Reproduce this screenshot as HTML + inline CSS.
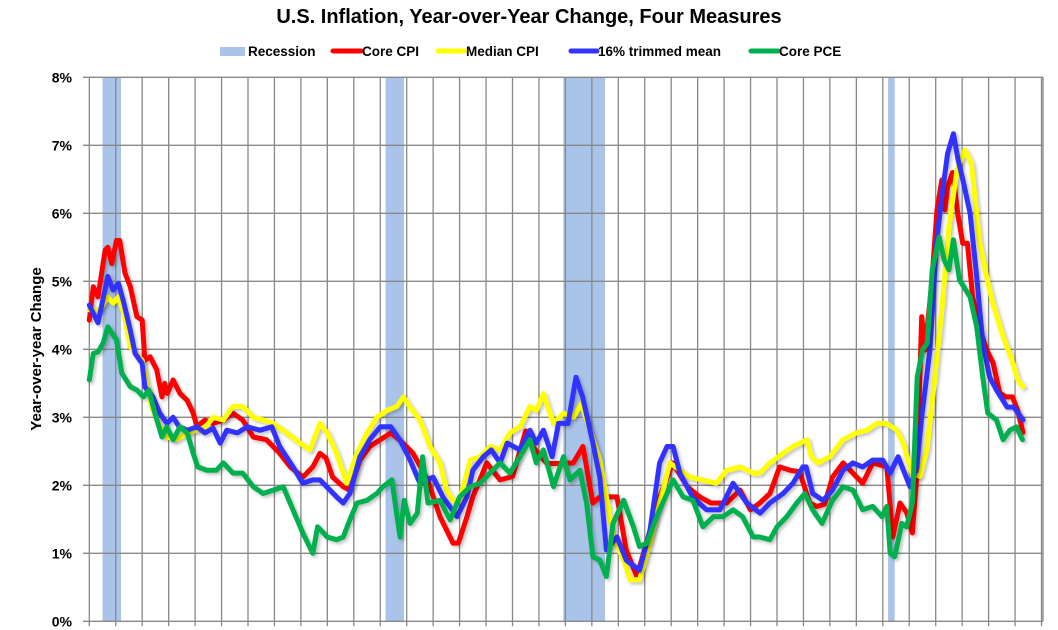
<!DOCTYPE html>
<html><head><meta charset="utf-8"><style>
body{margin:0;background:#fff;}
svg{display:block;font-family:"Liberation Sans",Arial,sans-serif;}
</style></head><body>
<svg id="chart" width="1058" height="630" viewBox="0 0 1058 630">
<defs><filter id="sh" x="-5%" y="-5%" width="110%" height="110%"><feDropShadow dx="2" dy="2" stdDeviation="1.5" flood-color="#000" flood-opacity="0.25"/></filter></defs>
<text x="529" y="23" text-anchor="middle" font-size="20" font-weight="bold" fill="#000">U.S. Inflation, Year-over-Year Change, Four Measures</text>
<g font-size="13.5" font-weight="bold">
<g><rect x="220" y="47" width="25" height="9" fill="#a9c4e8"/><text x="248" y="56">Recession</text></g>
<g><line x1="333" y1="51" x2="361" y2="51" stroke="#ff0000" stroke-width="5" stroke-linecap="round"/><text x="362" y="56">Core CPI</text></g>
<g><line x1="438" y1="51" x2="465" y2="51" stroke="#ffff00" stroke-width="5" stroke-linecap="round"/><text x="466" y="56">Median CPI</text></g>
<g><line x1="571" y1="51" x2="597" y2="51" stroke="#3333ff" stroke-width="5" stroke-linecap="round"/><text x="598" y="56">16% trimmed mean</text></g>
<g><line x1="751" y1="51" x2="778" y2="51" stroke="#00b050" stroke-width="5" stroke-linecap="round"/><text x="779" y="56">Core PCE</text></g>
</g>
<text transform="translate(41,349) rotate(-90)" text-anchor="middle" font-size="15" font-weight="bold">Year-over-year Change</text>
<g id="rec"></g><g id="grid"></g><g id="ylab" font-size="14" font-weight="bold"></g><g id="series"></g>
</svg>
<script>
const recessionStarts=[1990.5,2001.2,2007.92,2020.2];
const recessionEnds=[1991.2,2001.9,2009.5,2020.45];
const yTicks=[0,1,2,3,4,5,6,7,8];
const yTickLabels=["0%","1%","2%","3%","4%","5%","6%","7%","8%"];
const coreCpiYears=[1990,1990.15,1990.33,1990.6,1990.7,1990.85,1991.03,1991.15,1991.35,1991.55,1991.8,1992,1992.1,1992.3,1992.55,1992.75,1992.85,1992.95,1993.17,1993.43,1993.7,1993.93,1994.07,1994.37,1994.68,1995.07,1995.43,1995.8,1996.2,1996.7,1997.2,1997.6,1998.07,1998.45,1998.72,1998.95,1999.2,1999.6,1999.85,2000.23,2000.6,2001,2001.4,2001.75,2002.24,2002.77,2003.26,2003.75,2003.95,2004.28,2004.5,2005.03,2005.53,2006,2006.5,2006.7,2007.3,2007.8,2008.3,2008.66,2009.04,2009.3,2009.95,2010.3,2010.7,2011.1,2011.56,2012.06,2012.6,2013.08,2013.5,2014.1,2014.6,2015,2015.35,2015.73,2016.1,2016.5,2016.85,2017.24,2017.5,2017.8,2018.1,2018.5,2018.87,2019.24,2019.62,2020.15,2020.38,2020.65,2020.9,2021.12,2021.28,2021.47,2021.6,2021.85,2022.05,2022.23,2022.35,2022.45,2022.64,2022.85,2023.02,2023.2,2023.4,2023.65,2023.93,2024.17,2024.42,2024.65,2024.9,2025.1,2025.3];
const coreCpiValues=[4.43,4.92,4.77,5.46,5.5,5.26,5.6,5.6,5.12,4.92,4.48,4.43,3.84,3.89,3.7,3.3,3.5,3.35,3.55,3.35,3.25,3.06,2.86,2.96,2.91,2.96,3.06,2.96,2.71,2.67,2.47,2.27,2.12,2.27,2.47,2.4,2.12,1.98,1.93,2.37,2.57,2.67,2.77,2.66,2.47,2.1,1.54,1.15,1.15,1.54,1.83,2.33,2.08,2.13,2.8,2.6,2.32,2.32,2.33,2.57,1.74,1.83,1.83,1.05,0.66,1.2,1.83,2.33,1.98,1.83,1.74,1.74,1.93,1.64,1.74,1.88,2.27,2.22,2.2,1.74,1.69,1.72,2.12,2.33,2.18,2.03,2.33,2.27,1.24,1.74,1.6,1.3,2.12,4.48,3.99,4.97,6.05,6.49,6.05,6.39,6.6,5.95,5.56,5.56,4.77,4.33,3.99,3.8,3.36,3.3,3.3,3.1,2.78];
const medianCpiYears=[1990,1990.4,1990.7,1990.9,1991.1,1991.3,1991.55,1991.75,1992,1992.2,1992.35,1992.67,1992.93,1993.3,1993.7,1994.07,1994.4,1994.68,1995.07,1995.43,1995.8,1996.2,1996.57,1996.95,1997.47,1997.97,1998.34,1998.72,1999,1999.35,1999.73,2000.12,2000.5,2000.87,2001.25,2001.63,2001.87,2002.13,2002.5,2002.88,2003.26,2003.5,2003.75,2004,2004.4,2004.77,2005.15,2005.53,2005.9,2006.28,2006.66,2006.9,2007.17,2007.55,2007.93,2008.3,2008.6,2008.93,2009.3,2009.55,2009.8,2010.2,2010.45,2010.8,2011.2,2011.56,2011.95,2012.33,2012.7,2013.2,2013.7,2014.1,2014.6,2015.1,2015.35,2015.73,2016.23,2016.6,2017.13,2017.3,2017.55,2018,2018.5,2019,2019.4,2019.77,2020.15,2020.53,2020.77,2021.1,2021.4,2021.66,2021.9,2022.23,2022.5,2022.8,2023.1,2023.35,2023.65,2023.92,2024.16,2024.55,2024.88,2025.1,2025.3];
const medianCpiValues=[4.58,4.58,4.77,4.68,4.77,4.53,4.04,3.94,3.84,3.45,3.16,2.86,2.71,2.67,2.77,2.81,2.86,3.0,2.96,3.16,3.16,3.0,2.96,2.91,2.77,2.62,2.52,2.91,2.77,2.47,2.03,2.47,2.77,3.0,3.1,3.16,3.3,3.15,2.96,2.57,2.33,1.93,1.78,1.78,2.37,2.42,2.57,2.52,2.77,2.86,3.16,3.1,3.35,2.91,3.06,3.0,3.2,2.81,2.37,1.83,1.24,0.9,0.61,0.61,1.15,1.74,2.33,2.22,2.12,2.08,2.03,2.22,2.27,2.18,2.18,2.33,2.47,2.57,2.67,2.42,2.33,2.42,2.67,2.77,2.81,2.91,2.91,2.81,2.62,2.18,2.13,2.52,3.35,4.58,5.8,6.63,6.93,6.73,5.6,5.07,4.68,4.19,3.84,3.55,3.45];
const trimmedYears=[1990,1990.33,1990.7,1990.9,1991.1,1991.28,1991.55,1991.73,1992,1992.1,1992.4,1992.67,1992.93,1993.17,1993.4,1993.7,1994.07,1994.37,1994.68,1994.95,1995.2,1995.6,1995.97,1996.45,1996.9,1997.2,1997.7,1998.07,1998.45,1998.72,1999.1,1999.35,1999.6,1999.85,2000.23,2000.6,2001,2001.4,2001.75,2002.13,2002.5,2003,2003.37,2003.9,2004.28,2004.5,2004.9,2005.2,2005.53,2005.8,2006.28,2006.66,2006.9,2007.17,2007.5,2007.74,2008.1,2008.4,2008.65,2009.04,2009.3,2009.55,2009.95,2010.3,2010.8,2011.2,2011.56,2011.84,2012.07,2012.33,2012.8,2013.34,2013.84,2014.34,2014.86,2015.36,2015.73,2016.23,2016.6,2016.98,2017.1,2017.35,2017.74,2018.1,2018.5,2018.87,2019.24,2019.62,2020,2020.28,2020.58,2021.03,2021.28,2021.47,2021.78,2022.03,2022.23,2022.45,2022.67,2022.85,2023.03,2023.3,2023.55,2023.78,2024.04,2024.3,2024.7,2024.95,2025.3];
const trimmedValues=[4.65,4.39,5.07,4.87,4.97,4.72,4.28,3.94,3.79,3.45,3.3,3.06,2.91,3.0,2.86,2.81,2.86,2.77,2.84,2.62,2.81,2.77,2.86,2.81,2.86,2.57,2.27,2.03,2.08,2.08,1.93,1.83,1.74,1.88,2.42,2.67,2.86,2.86,2.66,2.37,2.03,2.12,1.83,1.54,1.83,2.22,2.42,2.52,2.33,2.62,2.52,2.81,2.62,2.81,2.42,2.91,2.91,3.59,3.3,2.62,2.12,1.05,1.24,0.9,0.75,1.34,2.33,2.57,2.57,2.18,1.83,1.64,1.64,2.03,1.74,1.59,1.74,1.88,2.03,2.27,2.27,1.88,1.78,1.93,2.22,2.33,2.27,2.37,2.37,2.18,2.42,1.98,2.27,3.0,3.99,5.56,6.24,6.88,7.17,6.78,6.49,6.0,5.07,4.09,3.59,3.4,3.15,3.15,2.96];
const corePceYears=[1990,1990.15,1990.33,1990.52,1990.7,1990.85,1991.03,1991.23,1991.55,1991.8,1992.05,1992.25,1992.48,1992.75,1992.93,1993.17,1993.43,1993.7,1993.93,1994.1,1994.45,1994.8,1995.07,1995.43,1995.8,1996.2,1996.57,1996.95,1997.33,1997.7,1998.07,1998.45,1998.63,1999,1999.35,1999.6,1999.85,2000.12,2000.5,2000.87,2001.1,2001.44,2001.6,2001.75,2001.9,2002.13,2002.4,2002.6,2002.8,2003.26,2003.64,2004,2004.4,2004.77,2005.15,2005.53,2005.9,2006.28,2006.66,2006.9,2007.17,2007.55,2007.93,2008.17,2008.55,2008.8,2009.04,2009.3,2009.55,2009.8,2010.2,2010.57,2010.8,2011.08,2011.45,2011.84,2012.07,2012.45,2012.82,2013.2,2013.6,2013.96,2014.34,2014.7,2015.1,2015.35,2015.73,2016,2016.37,2016.75,2017.05,2017.35,2017.7,2018.1,2018.5,2018.87,2019.24,2019.62,2019.97,2020.15,2020.28,2020.45,2020.72,2020.9,2021.12,2021.3,2021.5,2021.68,2021.87,2022.13,2022.32,2022.5,2022.67,2022.9,2023.3,2023.55,2023.78,2023.97,2024.3,2024.55,2024.8,2025.05,2025.28];
const corePceValues=[3.55,3.94,3.96,4.09,4.33,4.24,4.14,3.65,3.45,3.4,3.3,3.4,3.06,2.71,2.86,2.67,2.86,2.77,2.47,2.27,2.22,2.22,2.33,2.18,2.18,1.98,1.88,1.93,1.98,1.64,1.3,1.0,1.39,1.24,1.2,1.24,1.49,1.74,1.78,1.88,1.98,2.08,1.64,1.24,1.78,1.44,1.59,2.42,1.74,1.78,1.49,1.83,1.98,2.03,2.18,2.33,2.18,2.42,2.67,2.33,2.52,1.98,2.42,2.08,2.22,1.74,0.95,0.9,0.66,1.44,1.78,1.39,1.1,1.15,1.54,1.88,2.08,1.83,1.78,1.39,1.54,1.54,1.64,1.54,1.24,1.24,1.2,1.39,1.54,1.74,1.88,1.64,1.44,1.78,1.98,1.93,1.64,1.69,1.54,1.69,1.0,0.95,1.44,1.39,1.74,3.59,3.99,4.09,5.17,5.65,5.31,5.17,5.61,5.02,4.77,4.33,3.59,3.06,2.96,2.67,2.81,2.86,2.67];

const NS='http://www.w3.org/2000/svg';
const X0=89.3, PX_PER_YEAR=26.45, Y0=621.3, PX_PER_PCT=68, XR=1043;
const xs=t=>X0+(t-1990)*PX_PER_YEAR;
const ys=v=>Y0-v*PX_PER_PCT;
function mk(tag,attrs,parent){const e=document.createElementNS(NS,tag);for(const k in attrs)e.setAttribute(k,attrs[k]);parent.appendChild(e);return e;}
const rec=document.getElementById('rec'),grid=document.getElementById('grid'),ylab=document.getElementById('ylab'),ser=document.getElementById('series');
recessionStarts.forEach((s,i)=>{
  const r=mk('rect',{x:xs(s),y:ys(8),width:xs(recessionEnds[i])-xs(s),height:ys(0)-ys(8),fill:'#a9c4e8'},rec);
  
  
});
for(let yr=1990;yr<=2026;yr++){
  const l=mk('line',{x1:xs(yr),x2:xs(yr),y1:ys(8),y2:ys(0)+5,stroke:'#888','stroke-width':1.3},grid);
  
  
}
mk('line',{x1:XR,x2:XR,y1:ys(8),y2:ys(0),stroke:'#888','stroke-width':1.3},grid);
yTicks.forEach((v,i)=>{
  const l=mk('line',{x1:83,x2:XR,y1:ys(v),y2:ys(v),stroke:'#888','stroke-width':1.3},grid);
  
  
  const t=mk('text',{x:72,y:ys(v)+5,'text-anchor':'end'},ylab);
  t.textContent=yTickLabels[i];
  
  
});
function line(yrs,vals,color,name){
  const d=yrs.map((t,i)=>(i?'L':'M')+xs(t).toFixed(1)+','+ys(vals[i]).toFixed(1)).join('');
  const p=mk('path',{d:d,fill:'none',stroke:color,'stroke-width':5,'stroke-linejoin':'round','stroke-linecap':'round',filter:'url(#sh)'},ser);
  
  
}
line(coreCpiYears,coreCpiValues,'#ff0000','core-cpi-line');
line(medianCpiYears,medianCpiValues,'#ffff00','median-cpi-line');
line(trimmedYears,trimmedValues,'#3333ff','trimmed-mean-line');
line(corePceYears,corePceValues,'#00b050','core-pce-line');
</script>
</body></html>
